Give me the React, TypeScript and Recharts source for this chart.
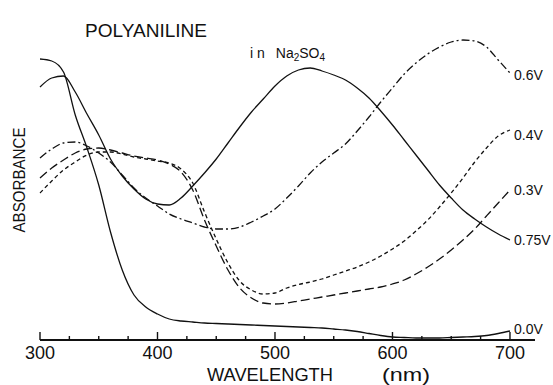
import React from 'react';
import { LineChart, Line, XAxis, YAxis, Customized } from 'recharts';

// wavelength (nm) and absorbance (arb. units)
const wavelengths = [
  300, 310, 320, 330, 340, 350, 360, 370, 380, 390, 400, 410, 420, 430, 440, 450, 460, 470, 480, 490, 500,
  510, 520, 530, 540, 550, 560, 570, 580, 590, 600, 610, 620, 630, 640, 650, 660, 670, 680, 690, 700,
];
const abs00 = [
  2.81, 2.79, 2.68, 2.25, 1.92, 1.55, 1.08, 0.7, 0.45, 0.33, 0.26, 0.21, 0.19, 0.18, 0.17, 0.165, 0.16, 0.155, 0.15, 0.145, 0.14,
  0.135, 0.13, 0.125, 0.12, 0.11, 0.1, 0.085, 0.065, 0.045, 0.03, 0.025, 0.02, 0.02, 0.02, 0.025, 0.03, 0.035, 0.045, 0.065, 0.09,
];
const abs03 = [
  1.62, 1.72, 1.8, 1.87, 1.91, 1.92, 1.9, 1.87, 1.84, 1.82, 1.8, 1.76, 1.68, 1.5, 1.2, 0.94, 0.7, 0.52, 0.42, 0.37, 0.36,
  0.37, 0.39, 0.41, 0.43, 0.45, 0.47, 0.49, 0.51, 0.53, 0.56, 0.6, 0.66, 0.73, 0.81, 0.9, 1.0, 1.11, 1.24, 1.37, 1.5,
];
const abs04 = [
  1.47, 1.59, 1.7, 1.78, 1.85, 1.88, 1.88, 1.86, 1.83, 1.81, 1.79, 1.77, 1.71, 1.57, 1.28, 1.01, 0.77, 0.59, 0.5, 0.46, 0.47,
  0.52, 0.555, 0.58, 0.61, 0.65, 0.69, 0.73, 0.78, 0.84, 0.91, 0.99, 1.09, 1.2, 1.33, 1.47, 1.62, 1.78, 1.92, 2.04, 2.1,
];
const abs06 = [
  1.82, 1.91, 1.97, 1.98, 1.94, 1.87, 1.78, 1.65, 1.52, 1.42, 1.34, 1.26, 1.21, 1.17, 1.13, 1.11, 1.11, 1.13, 1.18, 1.24, 1.31,
  1.42, 1.54, 1.67, 1.78, 1.87, 1.96, 2.09, 2.23, 2.38, 2.52, 2.66, 2.77, 2.86, 2.93, 2.98, 3.0, 2.99, 2.93, 2.8, 2.67,
];
const abs075 = [
  2.53, 2.62, 2.64, 2.48, 2.26, 2.05, 1.81, 1.64, 1.51, 1.41, 1.36, 1.35, 1.42, 1.54, 1.67, 1.81, 1.97, 2.13, 2.28, 2.41, 2.54,
  2.64, 2.7, 2.72, 2.69, 2.65, 2.6, 2.52, 2.42, 2.29, 2.15, 2.0, 1.85, 1.7, 1.55, 1.42, 1.3, 1.21, 1.13, 1.06, 1.0,
];
const xTicks = [300, 325, 350, 375, 400, 425, 450, 475, 500, 525, 550, 575, 600, 625, 650, 675, 700];

const data = wavelengths.map((nm, i) => ({
  nm,
  v00: abs00[i],
  v03: abs03[i],
  v04: abs04[i],
  v06: abs06[i],
  v075: abs075[i],
}));

const FONT = '"Liberation Sans", Arial, sans-serif';
const INK = '#111';

const WaveTick = (props: any) => {
  const { x, y, payload } = props;
  const major = payload.value % 100 === 0;
  return (
    <g>
      <line x1={x} y1={y} x2={x} y2={y - (major ? 8 : 4)} stroke={INK} strokeWidth={1.4} />
      {major && (
        <text x={x} y={y + 19} textAnchor="middle" fontSize={18} fontFamily={FONT} fill={INK}>
          {payload.value}
        </text>
      )}
    </g>
  );
};

const endLabel = (name: string, dy: number) => (props: any) => {
  if (props.index !== wavelengths.length - 1) return null;
  const vb = props.viewBox || {};
  const x = props.x ?? vb.x;
  const y = props.y ?? vb.y;
  return (
    <text x={x + 4} y={y + dy} fontSize={14} fontFamily={FONT} fill={INK}>
      {name}
    </text>
  );
};

const Titles = () => (
  <g fontFamily={FONT} fill={INK}>
    <text x={85} y={37} fontSize={19} textLength={122} lengthAdjust="spacingAndGlyphs">
      POLYANILINE
    </text>
    <text x={250} y={58} fontSize={14}>
      i n
      <tspan dx={11}>Na</tspan>
      <tspan fontSize={10} dy={3}>2</tspan>
      <tspan dy={-3}>SO</tspan>
      <tspan fontSize={10} dy={3}>4</tspan>
    </text>
    <text transform="translate(25,180) rotate(-90)" textAnchor="middle" fontSize={17} textLength={105} lengthAdjust="spacingAndGlyphs">
      ABSORBANCE
    </text>
    <text x={207} y={381} fontSize={19} textLength={126} lengthAdjust="spacingAndGlyphs">
      WAVELENGTH
    </text>
    <text x={382} y={381} fontSize={18} textLength={48} lengthAdjust="spacingAndGlyphs">
      (nm)
    </text>
  </g>
);

export default function App() {
  return (
    <div style={{ position: 'absolute', left: 0, top: 0, width: 553, height: 385, background: '#fff' }}>
      <LineChart width={553} height={385} data={data} margin={{ top: 13, right: 18, left: 40, bottom: 0 }}>
        <XAxis
          dataKey="nm"
          type="number"
          domain={[300, 721.3]}
          ticks={xTicks}
          interval={0}
          height={45}
          tickLine={false}
          tickSize={0}
          tickMargin={0}
          tick={<WaveTick />}
          axisLine={{ stroke: INK, strokeWidth: 1.8 }}
        />
        <YAxis
          type="number"
          domain={[0, 3.27]}
          width={0}
          tick={false}
          tickLine={false}
          axisLine={{ stroke: INK, strokeWidth: 1.8 }}
        />
        <Line type="monotone" dataKey="v00" stroke={INK} strokeWidth={1.3} dot={false} isAnimationActive={false} label={endLabel('0.0V', 3)} />
        <Line type="monotone" dataKey="v075" stroke={INK} strokeWidth={1.3} dot={false} isAnimationActive={false} label={endLabel('0.75V', 5)} />
        <Line type="monotone" dataKey="v06" stroke={INK} strokeWidth={1.3} strokeDasharray="8 3 2 3" dot={false} isAnimationActive={false} label={endLabel('0.6V', 7)} />
        <Line type="monotone" dataKey="v04" stroke={INK} strokeWidth={1.3} strokeDasharray="4 3" dot={false} isAnimationActive={false} label={endLabel('0.4V', 10)} />
        <Line type="monotone" dataKey="v03" stroke={INK} strokeWidth={1.3} strokeDasharray="9 4" dot={false} isAnimationActive={false} label={endLabel('0.3V', 5)} />
        <Customized component={Titles} />
      </LineChart>
    </div>
  );
}
